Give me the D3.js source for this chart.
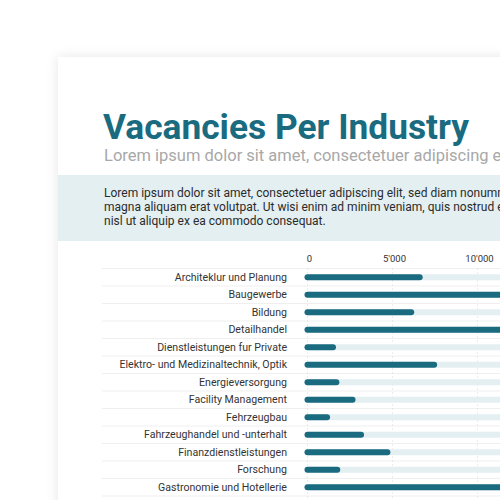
<!DOCTYPE html>
<html>
<head>
<meta charset="utf-8">
<script src="https://cdn.jsdelivr.net/npm/d3@7"></script>
<style>
  body { margin: 0; background: #fff; }
  svg { display: block; font-family: Roboto, sans-serif; }
</style>
</head>
<body>
<div id="chartContainer"></div>
<script>
var industries = [
  "Architeklur und Planung",
  "Baugewerbe",
  "Bildung",
  "Detailhandel",
  "Dienstleistungen fur Private",
  "Elektro- und Medizinaltechnik, Optik",
  "Energieversorgung",
  "Facility Management",
  "Fehrzeugbau",
  "Fahrzeughandel und -unterhalt",
  "Finanzdienstleistungen",
  "Forschung",
  "Gastronomie und Hotellerie"
];
var vacancies = [6600, 14000, 6100, 15000, 1500, 7450, 1700, 2650, 1150, 3150, 4700, 1750, 13000];
var tickValues = [0, 5000, 10000];

var title = "Vacancies Per Industry";
var subtitle = "Lorem ipsum dolor sit amet, consectetuer adipiscing elit, sed diam nonummy nibh";
var intro = [
  "Lorem ipsum dolor sit amet, consectetuer adipiscing elit, sed diam nonummy nibh euismod tincidunt ut laoreet dolore",
  "magna aliquam erat volutpat. Ut wisi enim ad minim veniam, quis nostrud exerci tation ullamcorper suscipit lobortis",
  "nisl ut aliquip ex ea commodo consequat."
];

var data = industries.map(function(d, i){ return {name: d, value: vacancies[i]}; });

var width = 500, height = 500;
var teal = "#1a6b80";

var svg = d3.select("#chartContainer").append("svg")
  .attr("width", width)
  .attr("height", height);

// card shadow
var filter = svg.append("defs").append("filter")
  .attr("id", "shadow")
  .attr("x", "-20%").attr("y", "-20%")
  .attr("width", "140%").attr("height", "140%");
filter.append("feDropShadow")
  .attr("dx", 0).attr("dy", 0)
  .attr("stdDeviation", 6)
  .attr("flood-color", "#000")
  .attr("flood-opacity", 0.1);

svg.append("rect")
  .attr("x", 58).attr("y", 57)
  .attr("width", 600).attr("height", 600)
  .attr("fill", "#fff")
  .attr("filter", "url(#shadow)");

// header
svg.append("text")
  .attr("x", 103).attr("y", 138.5)
  .attr("fill", teal)
  .attr("font-size", 35.3)
  .attr("font-weight", 700)
  .text(title);

svg.append("text")
  .attr("x", 104).attr("y", 160.5)
  .attr("fill", "#a8a8a8")
  .attr("font-size", 16.5)
  .text(subtitle);

svg.append("rect")
  .attr("x", 58).attr("y", 175)
  .attr("width", 600).attr("height", 66)
  .attr("fill", "#e4eff2");

svg.append("g").selectAll("text")
  .data(intro)
  .join("text")
    .attr("x", 104)
    .attr("y", function(d, i){ return 197 + i * 14; })
    .attr("fill", "#2b2b2b")
    .attr("font-size", 12)
    .text(function(d){ return d; });

// chart
var x = d3.scaleLinear()
  .domain([0, 10000])
  .range([307.5, 477.5]);

var y = d3.scaleBand()
  .domain(industries)
  .range([268.5, 268.5 + industries.length * 17.5]);

var fmt = d3.formatLocale({decimal: ".", thousands: "'", grouping: [3], currency: ["", ""]}).format(",");

// row separators
svg.append("g").selectAll("line")
  .data(industries.concat([null]))
  .join("line")
    .attr("x1", 102).attr("x2", 500)
    .attr("y1", function(d, i){ return y.range()[0] + i * y.bandwidth(); })
    .attr("y2", function(d, i){ return y.range()[0] + i * y.bandwidth(); })
    .attr("stroke", "#efefef")
    .attr("stroke-width", 1);

// gridlines
svg.append("g").selectAll("line")
  .data(tickValues)
  .join("line")
    .attr("x1", x).attr("x2", x)
    .attr("y1", y.range()[0])
    .attr("y2", 500)
    .attr("stroke", "#d8d8d8")
    .attr("stroke-dasharray", "1,3");

var xAxis = d3.axisTop(x)
  .tickValues(tickValues)
  .tickSize(0)
  .tickFormat(fmt);

var xg = svg.append("g")
  .attr("transform", "translate(1.5,262)")
  .call(xAxis);
xg.select(".domain").remove();
xg.selectAll("text")
  .attr("font-family", "Roboto, sans-serif")
  .attr("font-size", 9.5)
  .attr("fill", "#333")
  .attr("dy", 3);

// tracks
var rows = svg.append("g").selectAll("g")
  .data(data)
  .join("g")
    .attr("transform", function(d){ return "translate(0," + (y(d.name) + y.bandwidth() / 2) + ")"; });

rows.append("line")
  .attr("x1", x(0)).attr("x2", x(30000))
  .attr("stroke", "#e4eff2")
  .attr("stroke-width", 6)
  .attr("stroke-linecap", "round");

rows.append("line")
  .attr("x1", x(0)).attr("x2", function(d){ return x(d.value); })
  .attr("stroke", teal)
  .attr("stroke-width", 6)
  .attr("stroke-linecap", "round");

rows.append("text")
  .attr("x", 287)
  .attr("dy", "0.35em")
  .attr("text-anchor", "end")
  .attr("font-size", 10.6)
  .attr("fill", "#333")
  .text(function(d){ return d.name; });
</script>
</body>
</html>
